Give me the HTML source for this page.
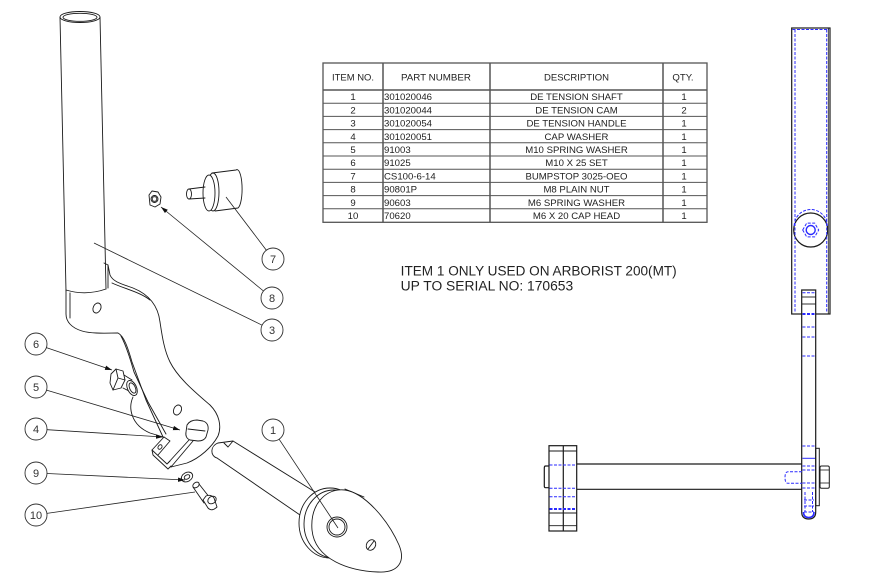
<!DOCTYPE html>
<html><head><meta charset="utf-8"><style>
html,body{margin:0;padding:0;background:#fff;}
svg{display:block;}
text{font-family:"Liberation Sans",sans-serif;}
</style></head><body>
<svg width="896" height="575" viewBox="0 0 896 575" xmlns="http://www.w3.org/2000/svg">
<defs>
<marker id="a" markerWidth="8" markerHeight="6" refX="7" refY="3" orient="auto" markerUnits="userSpaceOnUse"><path d="M0,0.8 L7,3 L0,5.2 Z" fill="#111"/></marker>
</defs>
<rect width="896" height="575" fill="#fff"/>

<!-- ============ TABLE ============ -->
<g stroke="#555" fill="none">
<rect x="323" y="63" width="384" height="159.3" stroke-width="1.3"/>
<line x1="323" y1="90" x2="707" y2="90" stroke-width="1.6"/>
<g stroke-width="1">
<line x1="323" y1="103.2" x2="707" y2="103.2"/>
<line x1="323" y1="116.4" x2="707" y2="116.4"/>
<line x1="323" y1="129.6" x2="707" y2="129.6"/>
<line x1="323" y1="142.8" x2="707" y2="142.8"/>
<line x1="323" y1="156" x2="707" y2="156"/>
<line x1="323" y1="169.2" x2="707" y2="169.2"/>
<line x1="323" y1="182.4" x2="707" y2="182.4"/>
<line x1="323" y1="195.6" x2="707" y2="195.6"/>
<line x1="323" y1="208.8" x2="707" y2="208.8"/>
</g>
<g stroke-width="1.5">
<line x1="383" y1="63" x2="383" y2="222.3"/>
<line x1="490" y1="63" x2="490" y2="222.3"/>
<line x1="663" y1="63" x2="663" y2="222.3"/>
</g>
</g>
<g fill="#222" font-size="9.6">
<text x="353" y="80.5" text-anchor="middle" textLength="42" lengthAdjust="spacingAndGlyphs">ITEM NO.</text>
<text x="436" y="80.5" text-anchor="middle" textLength="70" lengthAdjust="spacingAndGlyphs">PART NUMBER</text>
<text x="576.5" y="80.5" text-anchor="middle" textLength="65" lengthAdjust="spacingAndGlyphs">DESCRIPTION</text>
<text x="683" y="80.5" text-anchor="middle">QTY.</text>
</g>
<g fill="#222" font-size="9.6">
<g text-anchor="middle">
<text x="353" y="100.2">1</text><text x="353" y="113.4">2</text><text x="353" y="126.6">3</text><text x="353" y="139.8">4</text><text x="353" y="153">5</text>
<text x="353" y="166.2">6</text><text x="353" y="179.4">7</text><text x="353" y="192.6">8</text><text x="353" y="205.8">9</text><text x="353" y="219">10</text>
</g>
<g>
<text x="384" y="100.2">301020046</text><text x="384" y="113.4">301020044</text><text x="384" y="126.6">301020054</text><text x="384" y="139.8">301020051</text><text x="384" y="153">91003</text>
<text x="384" y="166.2">91025</text><text x="384" y="179.4">CS100-6-14</text><text x="384" y="192.6">90801P</text><text x="384" y="205.8">90603</text><text x="384" y="219">70620</text>
</g>
<g text-anchor="middle">
<text x="576.5" y="100.2">DE TENSION SHAFT</text><text x="576.5" y="113.4">DE TENSION CAM</text><text x="576.5" y="126.6">DE TENSION HANDLE</text><text x="576.5" y="139.8">CAP WASHER</text><text x="576.5" y="153">M10 SPRING WASHER</text>
<text x="576.5" y="166.2">M10 X 25 SET</text><text x="576.5" y="179.4">BUMPSTOP 3025-OEO</text><text x="576.5" y="192.6">M8 PLAIN NUT</text><text x="576.5" y="205.8">M6 SPRING WASHER</text><text x="576.5" y="219">M6 X 20 CAP HEAD</text>
</g>
<g text-anchor="middle">
<text x="684" y="100.2">1</text><text x="684" y="113.4">2</text><text x="684" y="126.6">1</text><text x="684" y="139.8">1</text><text x="684" y="153">1</text>
<text x="684" y="166.2">1</text><text x="684" y="179.4">1</text><text x="684" y="192.6">1</text><text x="684" y="205.8">1</text><text x="684" y="219">1</text>
</g>
</g>

<!-- note -->
<g fill="#222" font-size="13.5">
<text x="400.7" y="275.7" textLength="276" lengthAdjust="spacingAndGlyphs">ITEM 1 ONLY USED ON ARBORIST 200(MT)</text>
<text x="400.7" y="290.7" textLength="172.5" lengthAdjust="spacingAndGlyphs">UP TO SERIAL NO: 170653</text>
</g>

<!-- ============ LEFT ISOMETRIC ============ -->
<g stroke="#1a1a1a" stroke-width="0.9" fill="none" stroke-linejoin="round" stroke-linecap="round">
<!-- tube -->
<ellipse cx="80" cy="17" rx="20" ry="5.5"/>
<ellipse cx="80" cy="17.3" rx="17" ry="4"/>
<line x1="60" y1="17" x2="66" y2="291"/>
<line x1="100" y1="17" x2="106" y2="289"/>
<path d="M66,290 Q86,296 106,289"/>
<path d="M70,293 L70,318"/>
<path d="M104,263 L108,265 L108,288"/>

<!-- handle plate -->
<path d="M66,290 L66,314 C66,322 72,328 82,331 C92,334 108,333 118,333 C124,336 128,348 132,362 L146,400 L163,437"/>
<path d="M121,336 C126,345 130,358 134,372 L148,402 L166,434"/>
<path d="M108,265 L110,275 C113,282 122,284 133,288 C148,294 158,305 160,322 C162,335 164,350 170,362 C178,378 195,392 210,405 C219,414 222,426 218,436 C212,447 200,458 187,463 L171,467"/>
<path d="M112,283 C125,289 140,292 150,300"/>
<!-- holes -->
<ellipse cx="97" cy="308" rx="3.8" ry="5.2" transform="rotate(25 97 308)"/>
<ellipse cx="177.5" cy="410" rx="3.8" ry="5.2" transform="rotate(25 177.5 410)"/>
<!-- tab (cap washer) -->
<path d="M164,437 L152,450 L153,455 L168,469 L171,466"/>
<path d="M152,450 L167,464 L170,461 M164,437 L170,441 L158,455"/>
<ellipse cx="160" cy="447" rx="1.8" ry="2.5" transform="rotate(35 160 447)"/>
<!-- lever stem -->
<path d="M189,440 L168,463 M193,441 L171,467"/>
<!-- hex socket -->
<path d="M187,425 Q190,420 197,420 L203,421 Q209,423 208,430 L206,437 Q204,441 198,441 L190,440 Q185,438 186,432 Z" fill="#fff"/>
<path d="M188,429 L205,431"/>

<!-- item 6 bolt -->
<path d="M111,374 L116,369 L123,371 L125,380 L121,388 L113,390 L110,383 Z" fill="#fff"/>
<path d="M116,369 L118,378 L113,390 M118,378 L125,380"/>
<path d="M124,375 L132,380 M123,388 L131,392"/>
<ellipse cx="132" cy="388" rx="4.5" ry="8" transform="rotate(-25 132 388)" fill="#fff"/>
<ellipse cx="132.5" cy="388" rx="2.8" ry="5.5" transform="rotate(-25 132.5 388)"/>
<!-- wire curve -->
<path d="M133,397 C128,408 131,425 150,433 L163,437"/>

<!-- item 9 washer -->
<ellipse cx="187" cy="477" rx="6" ry="4.5" transform="rotate(-30 187 477)"/>
<ellipse cx="187" cy="477" rx="3" ry="2" transform="rotate(-30 187 477)"/>
<!-- item 10 screw -->
<path d="M193,487 L204,503 M199,484 L210,498"/>
<ellipse cx="196" cy="485" rx="3.5" ry="2.5" transform="rotate(-35 196 485)"/>
<path d="M203,500 L208,508 Q212,512 217,507 L214,498 Q211,494 206,496 Z" fill="#fff"/>
<ellipse cx="212" cy="500" rx="4.5" ry="3.5" transform="rotate(-35 212 500)"/>

<!-- item 8 nut -->
<path d="M149,195 L152,191 L158,192 L161,197 L160,204 L155,207 L150,205 Z" fill="#fff"/>
<circle cx="154.5" cy="199" r="3.5"/>
<circle cx="154.5" cy="199" r="2.3"/>

<!-- item 7 bumpstop -->
<path d="M212,173 L236,170 A5,19 0 0 1 238,208 L215,211" fill="#fff"/>
<ellipse cx="213" cy="192" rx="6" ry="19" fill="#fff"/>
<ellipse cx="209" cy="193" rx="6" ry="18" fill="#fff"/>
<path d="M189,189 L205,187 M189,199 L205,198"/>
<ellipse cx="189" cy="194" rx="2.5" ry="5" fill="#fff"/>

<!-- item 1 shaft -->
<path d="M218,443 L233,441 L315,492"/>
<path d="M217,458 L300,515"/>
<path d="M218,443 C210,446 210,456 217,458"/>
<path d="M224,443 L228,447 L233,441"/>
<ellipse cx="330" cy="523" rx="31" ry="35" fill="#fff"/>
<ellipse cx="334" cy="524" rx="30" ry="34" fill="#fff"/>
<path d="M345,489 L364,497"/>
<path d="M312,530 C310,505 325,488 345,490 C365,493 388,520 399,545 C406,562 398,573 378,572 C350,571 315,560 312,530 Z" fill="#fff"/>
<circle cx="337" cy="527" r="10" fill="#fff"/>
<circle cx="337" cy="527" r="8"/>
<ellipse cx="371" cy="545" rx="4.5" ry="5.5" transform="rotate(30 371 545)"/>
<path d="M368,549 L374,541"/>
</g>

<!-- balloons -->
<g stroke="#333" stroke-width="0.9" fill="#fff">
<circle cx="273" cy="259" r="11"/>
<circle cx="272" cy="298" r="11"/>
<circle cx="272" cy="330" r="11"/>
<circle cx="36" cy="344" r="11"/>
<circle cx="36" cy="387" r="11"/>
<circle cx="36" cy="429" r="11"/>
<circle cx="36" cy="473" r="11"/>
<circle cx="36" cy="515" r="11"/>
<circle cx="273" cy="430" r="11"/>
</g>
<g fill="#333" font-size="11" text-anchor="middle">
<text x="273" y="263">7</text>
<text x="272" y="302">8</text>
<text x="272" y="334">3</text>
<text x="36" y="348">6</text>
<text x="36" y="391">5</text>
<text x="36" y="433">4</text>
<text x="36" y="477">9</text>
<text x="36" y="519">10</text>
<text x="273" y="434">1</text>
</g>
<!-- leaders -->
<g stroke="#222" stroke-width="0.8" fill="none">
<line x1="46.4" y1="347.6" x2="112" y2="370" marker-end="url(#a)"/>
<line x1="46.5" y1="390.1" x2="180" y2="430" marker-end="url(#a)"/>
<line x1="47" y1="429.7" x2="163" y2="437" marker-end="url(#a)"/>
<line x1="47" y1="473.5" x2="185" y2="480" marker-end="url(#a)"/>
<line x1="46.9" y1="513.4" x2="195" y2="492"/>
<line x1="279.1" y1="439.2" x2="338" y2="528"/>
<line x1="266.4" y1="250.2" x2="226" y2="197"/>
<line x1="263.5" y1="291" x2="161" y2="207" marker-end="url(#a)"/>
<line x1="262.1" y1="325.2" x2="94" y2="243"/>
</g>

<!-- ============ RIGHT ORTHO VIEW ============ -->
<g stroke="#1a1a1a" stroke-width="1.2" fill="none">
<rect x="791.7" y="28" width="38.3" height="286"/>
<line x1="828.3" y1="28" x2="828.3" y2="314" stroke-width="0.8"/>
<circle cx="810.7" cy="230" r="17"/>
<!-- bar -->
<path d="M801.7,290 L801.7,512 Q801.7,519 808.7,519 Q815.7,519 815.7,512 L815.7,290 Z" fill="#fff"/>
<line x1="801.7" y1="297" x2="815.7" y2="297" stroke-width="0.9"/>
<line x1="801.7" y1="304" x2="815.7" y2="304" stroke-width="0.9"/>
<!-- shaft -->
<line x1="576.7" y1="464" x2="802" y2="464"/>
<line x1="576.7" y1="489.3" x2="802" y2="489.3"/>
<!-- disk -->
<rect x="549" y="445.7" width="27.7" height="85.3"/>
<line x1="563.3" y1="445.7" x2="563.3" y2="531"/>
<line x1="549" y1="451" x2="576.7" y2="451" stroke-width="0.9"/>
<line x1="549" y1="513" x2="576.7" y2="513" stroke-width="0.9"/>
<line x1="549" y1="525.7" x2="576.7" y2="525.7" stroke-width="0.9"/>
<path d="M549,466 L545.5,466 Q544.3,466 544.3,468 L544.3,486 Q544.3,487.7 545.5,487.7 L549,487.7"/>
<!-- washer & nut -->
<rect x="815.7" y="448.3" width="3.6" height="57.4" stroke-width="1"/>
<rect x="820" y="466" width="9.3" height="22.3" rx="1.5" stroke-width="1"/>
<line x1="820" y1="470" x2="829.3" y2="470" stroke-width="0.8"/>
<line x1="820" y1="483" x2="829.3" y2="483" stroke-width="0.8"/>
</g>
<g stroke="#2a2aff" stroke-width="1" fill="none" stroke-dasharray="3,1.5">
<line x1="795" y1="29.5" x2="795" y2="313"/>
<line x1="826.7" y1="29.5" x2="826.7" y2="313"/>
<line x1="792.5" y1="29.5" x2="829" y2="29.5"/>
<path d="M794.2,226 A16.5,16.5 0 0 1 827.2,226"/>
<polygon points="802.7,230 806.7,223.1 814.7,223.1 818.7,230 814.7,236.9 806.7,236.9"/>
<line x1="802.5" y1="292.7" x2="815" y2="292.7"/>
<line x1="802.5" y1="314" x2="815" y2="314" stroke-width="2"/>
<line x1="802.5" y1="327" x2="815" y2="327"/>
<line x1="802.5" y1="337" x2="815" y2="337"/>
<line x1="802.5" y1="356" x2="815" y2="356"/>
<line x1="802.5" y1="446" x2="815" y2="446"/>
<line x1="802.5" y1="466" x2="815" y2="466"/>
<line x1="802.5" y1="470" x2="815" y2="470"/>
<line x1="802.5" y1="483" x2="815" y2="483"/>
<line x1="802.5" y1="488" x2="815" y2="488"/>
<path d="M802,471.7 L788,471.7 Q785,471.7 785,477.5 Q785,483.3 788,483.3 L802,483.3"/>
<path d="M805,492 L805,512 M812.5,492 L812.5,512"/>
<path d="M804,500 L814,500 M804,506 L814,506 M804,512 L814,512"/>
<line x1="549.5" y1="465" x2="576.5" y2="465"/>
<line x1="549.5" y1="488.3" x2="576.5" y2="488.3"/>
<line x1="549.5" y1="496.7" x2="576.5" y2="496.7"/>
<line x1="549.5" y1="509" x2="576.5" y2="509" stroke-width="2"/>
</g>
<g stroke="#2a2aff" fill="none">
<circle cx="810.7" cy="230" r="4.5" stroke-width="1.4"/>
<line x1="802.5" y1="458.3" x2="815" y2="458.3" stroke-width="1"/>
<path d="M803.5,512 Q803.5,517.5 808.7,517.5 Q814,517.5 814,512" stroke-width="1.6"/>
</g>
</svg>
</body></html>
